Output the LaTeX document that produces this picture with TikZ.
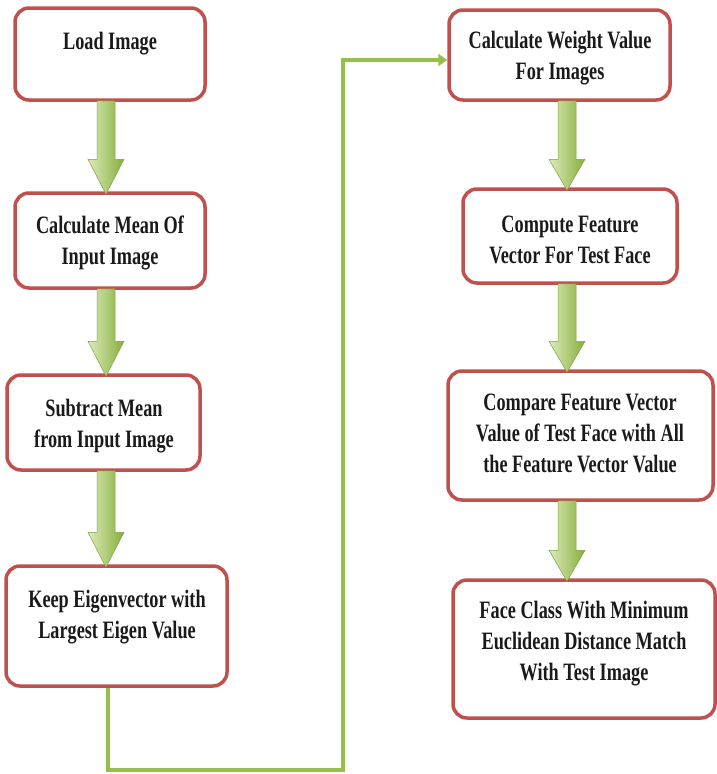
\documentclass[tikz,border=0pt]{standalone}
\usepackage{fontspec}
\newfontfamily\boxfont[FakeStretch=0.73]{Liberation Serif}
\usetikzlibrary{calc,arrows.meta}
\definecolor{boxred}{HTML}{C0504D}
\definecolor{lineg}{HTML}{93BF4A}
\definecolor{arrL}{HTML}{DCEBBA}
\definecolor{arrR}{HTML}{86AE3C}
\definecolor{arrEdge}{HTML}{7DA23A}
\definecolor{txt}{HTML}{1A1A1A}
\tikzset{
  flowbox/.style={draw=boxred, line width=3.5pt, rounded corners=14pt, fill=white, inner sep=0pt},
  flowtext/.style={font=\boxfont\bfseries\fontsize{25}{31}\selectfont, align=center, text=txt, inner sep=0pt},
  blockarr/.style={left color=arrL, right color=arrR, draw=arrEdge, line width=0.5pt},
  link/.style={draw=lineg, line width=4pt, -{Triangle[length=9pt,width=12pt]}}
}
% #1 column coordinate, #2 upper node, #3 lower node, #4 head length
\newcommand{\blockarrow}[4]{%
  \draw[blockarr] let \p0=(#1), \p1=(#2.south), \p2=(#3.north) in
    ({\x0-9pt},{\y1+1pt}) -- ({\x0+9pt},{\y1+1pt}) -- ({\x0+9pt},{\y2+#4pt}) --
    ({\x0+18pt},{\y2+#4pt}) -- (\x0,{\y2-3pt}) -- ({\x0-18pt},{\y2+#4pt}) --
    ({\x0-9pt},{\y2+#4pt}) -- cycle;}
\begin{document}
\begin{tikzpicture}[x=1pt,y=-1pt]
\useasboundingbox (0,0) rectangle (716,774);
% boxes
\node[flowbox, minimum width=190pt, minimum height=92pt]  (b1) at (110,54) {};
\node[flowbox, minimum width=190pt, minimum height=95pt]  (b2) at (110,240.5) {};
\node[flowbox, minimum width=193pt, minimum height=95pt]  (b3) at (103.5,422.5) {};
\node[flowbox, minimum width=221pt, minimum height=120pt] (b4) at (116.5,626) {};
\node[flowbox, minimum width=221pt, minimum height=90pt]  (b5) at (559.5,55) {};
\node[flowbox, minimum width=214pt, minimum height=94pt]  (b6) at (570,236) {};
\node[flowbox, minimum width=265pt, minimum height=129pt] (b7) at (580.5,435.5) {};
\node[flowbox, minimum width=262pt, minimum height=138pt] (b8) at (584,649) {};
% texts
\node[flowtext] (t1) at (110,44) {Load Image};
\node[flowtext] (t2) at (110,243) {Calculate Mean Of\\Input Image};
\node[flowtext] (t3) at (104,426) {Subtract Mean\\from Input Image};
\node[flowtext] (t4) at (117,617) {Keep Eigenvector with\\Largest Eigen Value};
\node[flowtext] (t5) at (560,58) {Calculate Weight Value\\For Images};
\node[flowtext] (t6) at (570,240) {Compute Feature\\Vector For Test Face};
\node[flowtext] (t7) at (580,433) {Compare Feature Vector\\Value of Test Face with All\\the Feature Vector Value};
\node[flowtext] (t8) at (584,644) {Face Class With Minimum\\Euclidean Distance Match\\With Test Image};
% columns for block arrows
\coordinate (colL) at (106,0);
\coordinate (colR) at (567,0);
\blockarrow{colL}{b1}{b2}{32}
\blockarrow{colL}{b2}{b3}{32}
\blockarrow{colL}{b3}{b4}{32}
\blockarrow{colR}{b5}{b6}{28}
\blockarrow{colR}{b6}{b7}{28}
\blockarrow{colR}{b7}{b8}{28}
% connector
\coordinate (c1) at (108,770);
\coordinate (c2) at (343,770);
\coordinate (c3) at (343,60);
\draw[link] (b4.south -| c1) -- (c1) -- (c2) -- (c3) -- (c3 -| b5.west);
\end{tikzpicture}
\end{document}
